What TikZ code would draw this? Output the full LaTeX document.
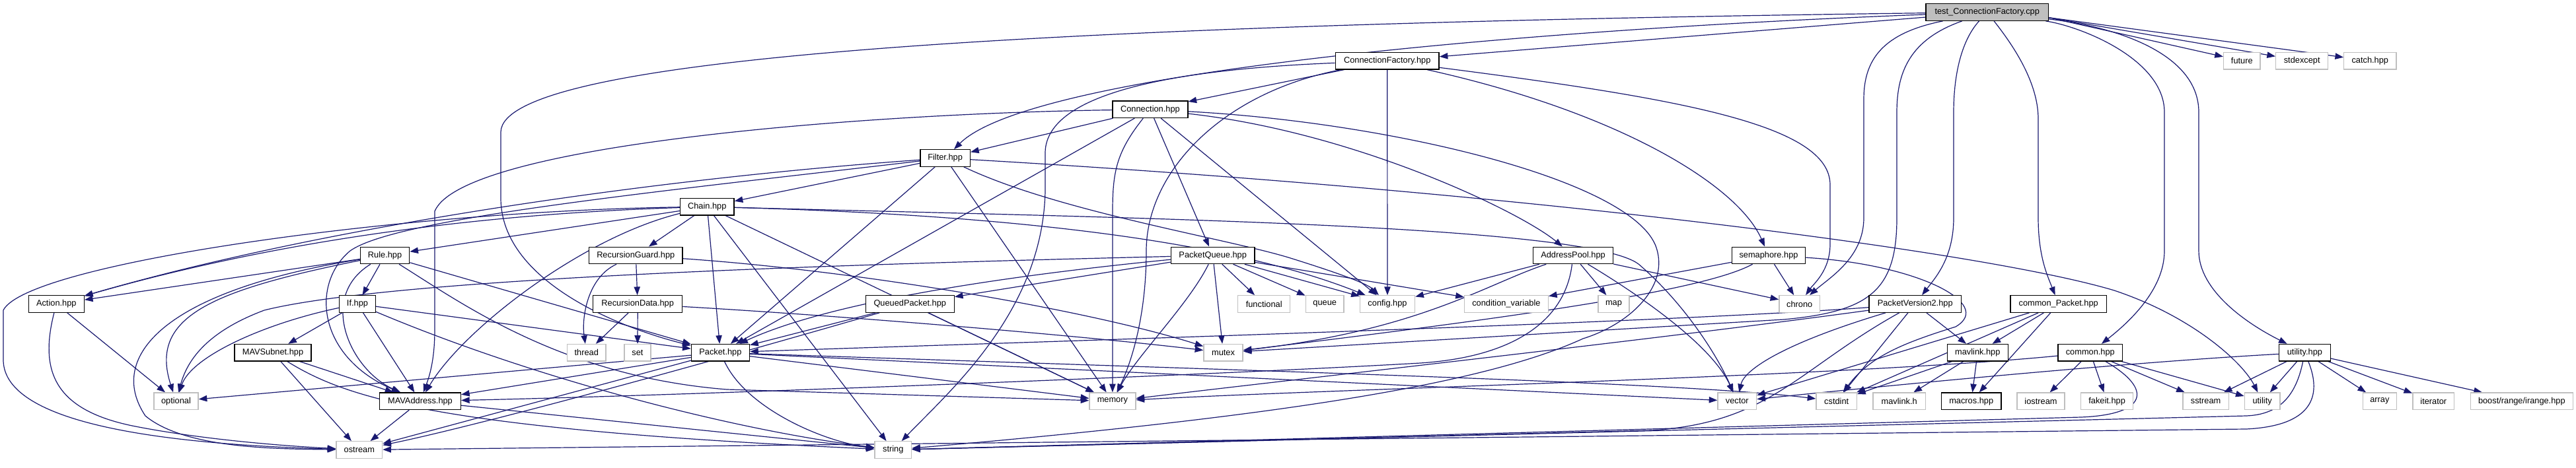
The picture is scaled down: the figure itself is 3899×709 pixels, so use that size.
\documentclass[tikz,border=0pt]{standalone}
\usepackage{fontspec}
\setmainfont{Liberation Sans}
\usetikzlibrary{arrows.meta,backgrounds}
\definecolor{edgeblue}{HTML}{191970}
\definecolor{grayb}{HTML}{BFBFBF}
\tikzset{
  box/.style={draw=black, line width=1pt, fill=white, minimum height=19.1pt, inner sep=0pt,
              font=\fontsize{9.6pt}{11pt}\selectfont},
  ext/.style={box, draw=grayb},
  root/.style={box, fill=grayb},
  e/.style={draw=edgeblue, line width=0.9pt, -{Triangle[length=9.5pt,width=7pt]}}
}
\begin{document}
\begin{tikzpicture}[x=0.75pt,y=-0.75pt]
\useasboundingbox (0,0) rectangle (3899,709);
% ---------------- nodes ----------------
\node[root, minimum width=139.1pt] (T) at (3007.7,18.5) {test\_ConnectionFactory.cpp};
\node[box, minimum width=117.5pt] (CF) at (2099.7,92.2) {ConnectionFactory.hpp};
\node[ext, minimum width=41.6pt] (future) at (3393.3,92.2) {future};
\node[ext, minimum width=59.3pt] (stdexcept) at (3484.2,92.2) {stdexcept};
\node[ext, minimum width=59.3pt] (catch) at (3587.3,92.2) {catch.hpp};
\node[box, minimum width=85.4pt] (Conn) at (1740.9,165.8) {Connection.hpp};
\node[box, minimum width=56.6pt] (Filt) at (1430.6,239.5) {Filter.hpp};
\node[box, minimum width=61.1pt] (Chain) at (1070.3,313.2) {Chain.hpp};
\node[box, minimum width=55.6pt] (Rule) at (582.6,386.9) {Rule.hpp};
\node[box, minimum width=106.1pt] (RG) at (962.3,386.9) {RecursionGuard.hpp};
\node[box, minimum width=95pt] (PQ) at (1835.7,386.9) {PacketQueue.hpp};
\node[box, minimum width=90.8pt] (AP) at (2381,386.9) {AddressPool.hpp};
\node[box, minimum width=83.4pt] (Sem) at (2677,386.9) {semaphore.hpp};
\node[box, minimum width=62.9pt] (Action) at (85.3,460.5) {Action.hpp};
\node[box, minimum width=40.9pt] (If) at (541,460.5) {If.hpp};
\node[box, minimum width=101.1pt] (RD) at (965.2,460.5) {RecursionData.hpp};
\node[box, minimum width=100.4pt] (QP) at (1377.3,460.5) {QueuedPacket.hpp};
\node[ext, minimum width=59.3pt] (functional) at (1913.2,460.5) {functional};
\node[ext, minimum width=43.3pt] (queue) at (2005.2,460.5) {queue};
\node[ext, minimum width=62.3pt] (config) at (2100,460.5) {config.hpp};
\node[ext, minimum width=95.1pt] (condvar) at (2279.9,460.5) {condition\_variable};
\node[ext, minimum width=35.3pt] (map) at (2442.5,460.5) {map};
\node[ext, minimum width=46.2pt] (chrono) at (2723.7,460.5) {chrono};
\node[box, minimum width=104.5pt] (PV2) at (2898.7,460.5) {PacketVersion2.hpp};
\node[box, minimum width=109.1pt] (cP) at (3115.7,460.5) {common\_Packet.hpp};
\node[box, minimum width=87pt] (MAVSubnet) at (413,534.2) {MAVSubnet.hpp};
\node[ext, minimum width=43.9pt] (thread) at (887.8,534.2) {thread};
\node[ext, minimum width=30pt] (set) at (965,534.2) {set};
\node[box, minimum width=66pt] (Pkt) at (1090.4,534.2) {Packet.hpp};
\node[ext, minimum width=44.3pt] (mutex) at (1851.5,534.2) {mutex};
\node[box, minimum width=69pt] (mavlinkhpp) at (2993.3,534.2) {mavlink.hpp};
\node[box, minimum width=73.1pt] (common) at (3163.8,534.2) {common.hpp};
\node[box, minimum width=58.2pt] (uhpp) at (3488.4,534.2) {utility.hpp};
\node[ext, minimum width=50.3pt] (optional) at (266.5,607.8) {optional};
\node[box, minimum width=92pt] (MAVAddr) at (636,607.8) {MAVAddress.hpp};
\node[ext, minimum width=52.4pt] (memory) at (1683.9,607.8) {memory};
\node[ext, minimum width=43.9pt] (vector) at (2629.3,607.8) {vector};
\node[ext, minimum width=46pt] (cstdint) at (2779.7,607.8) {cstdint};
\node[ext, minimum width=59.5pt] (mavlinkh) at (2874.7,607.8) {mavlink.h};
\node[box, minimum width=68pt] (macros) at (2983.7,607.8) {macros.hpp};
\node[ext, minimum width=54pt] (iostream) at (3089,607.8) {iostream};
\node[ext, minimum width=59.3pt] (fakeit) at (3189.1,607.8) {fakeit.hpp};
\node[ext, minimum width=51.9pt] (sstream) at (3338.6,607.8) {sstream};
\node[ext, minimum width=40.2pt] (utility) at (3424.1,607.8) {utility};
\node[ext, minimum width=38.2pt] (array) at (3601.8,607.8) {array};
\node[ext, minimum width=47.2pt] (iterator) at (3683.3,607.8) {iterator};
\node[ext, minimum width=116.2pt] (irange) at (3816.8,607.8) {boost/range/irange.hpp};
\node[ext, minimum width=52.2pt] (ostream) at (543.8,681.5) {ostream};
\node[ext, minimum width=41.6pt] (string) at (1351.8,681.5) {string};
% ---------------- edges ----------------
\begin{pgfonlayer}{background}
\fill[white] (0,0) rectangle (3899,709);
% test_ConnectionFactory.cpp
\draw[e] (T) -- (CF);
\draw[e] (T) .. controls (2300,45) and (1560,110) .. (Filt);
\draw[e] (T) .. controls (1500,38) and (760,90) .. (758,200) -- (758,300) .. controls (758,430) and (950,500) .. (Pkt);
\draw[e] (T) .. controls (2850,50) and (2821,90) .. (2821,150) -- (2821,330) .. controls (2821,390) and (2770,420) .. (chrono);
\draw[e] (T) .. controls (2890,60) and (2871,110) .. (2871,170) -- (2871,330) .. controls (2871,440) and (2830,472) .. (2700,484) -- (mutex);
\draw[e] (T) .. controls (2970,60) and (2957,110) .. (2957,170) -- (2957,330) .. controls (2957,390) and (2930,420) .. (PV2);
\draw[e] (T) .. controls (3040,60) and (3085,120) .. (3085,180) -- (3085,330) .. controls (3085,390) and (3100,420) .. (cP);
\draw[e] (T) .. controls (3150,40) and (3276,90) .. (3276,170) -- (3276,380) .. controls (3276,440) and (3220,490) .. (common);
\draw[e] (T) .. controls (3200,40) and (3328,80) .. (3328,170) -- (3328,380) .. controls (3328,440) and (3400,490) .. (uhpp);
\draw[e] (T.-5) -- (future);
\draw[e] (T.-5) -- (stdexcept);
\draw[e] (T.-5) -- (catch);
% ConnectionFactory.hpp
\draw[e] (CF) -- (Conn);
\draw[e] (CF) -- (config);
\draw[e] (CF) .. controls (1780,105) and (1585,140) .. (1582,230) -- (1582,290) .. controls (1578,470) and (1440,590) .. (string);
\draw[e] (CF) .. controls (1850,140) and (1735,260) .. (1735,380) .. controls (1735,480) and (1712,550) .. (memory);
\draw[e] (CF) .. controls (2550,150) and (2770,190) .. (2770,280) -- (2770,370) .. controls (2770,410) and (2745,430) .. (chrono);
\draw[e] (CF) .. controls (2450,170) and (2630,280) .. (Sem);
% Connection.hpp
\draw[e] (Conn) -- (Filt);
\draw[e] (Conn) .. controls (1300,172) and (700,220) .. (658,320) -- (658,500) .. controls (658,550) and (648,575) .. (MAVAddr);
\draw[e] (Conn) -- (Pkt);
\draw[e] (Conn) .. controls (1690,230) and (1684,260) .. (1684,320) -- (memory);
\draw[e] (Conn) -- (PQ);
\draw[e] (Conn) -- (config);
\draw[e] (Conn) .. controls (2050,200) and (2300,320) .. (AP);
\draw[e] (Conn) .. controls (2100,185) and (2460,270) .. (2505,370) .. controls (2530,430) and (2470,490) .. (2396,513) .. controls (2250,580) and (1950,630) .. (string);
% Filter.hpp
\draw[e] (Filt) -- (Chain);
\draw[e] (Filt) .. controls (1000,270) and (500,340) .. (Action);
\draw[e] (Filt) .. controls (1000,290) and (600,330) .. (530,380) .. controls (470,430) and (480,540) .. (MAVAddr);
\draw[e] (Filt) -- (Pkt);
\draw[e] (Filt) -- (memory);
\draw[e] (Filt) .. controls (1600,320) and (1850,360) .. (1950,390) .. controls (2030,415) and (2070,430) .. (config);
\draw[e] (Filt) .. controls (2300,290) and (3000,380) .. (3200,440) .. controls (3320,480) and (3395,550) .. (utility);
% Chain.hpp
\draw[e] (Chain) -- (Rule);
\draw[e] (Chain) .. controls (700,325) and (400,370) .. (Action);
\draw[e] (Chain) .. controls (600,320) and (40,400) .. (5,470) -- (5,545) .. controls (5,620) and (150,670) .. (ostream);
\draw[e] (Chain) .. controls (880,360) and (700,500) .. (MAVAddr);
\draw[e] (Chain) -- (RG);
\draw[e] (Chain) -- (Pkt);
\draw[e] (Chain) -- (string);
\draw[e] (Chain) .. controls (1500,325) and (1850,360) .. (config);
\draw[e] (Chain) .. controls (1700,330) and (2400,340) .. (2480,400) .. controls (2550,460) and (2600,540) .. (vector);
\draw[e] (Chain) -- (memory);
% Rule.hpp
\draw[e] (Rule) -- (Action);
\draw[e] (Rule) .. controls (320,440) and (225,480) .. (optional);
\draw[e] (Rule) .. controls (250,440) and (160,540) .. (220,630) .. controls (280,680) and (420,680) .. (ostream);
\draw[e] (Rule) -- (If);
\draw[e] (Rule) .. controls (480,450) and (530,560) .. (MAVAddr);
\draw[e] (Rule) .. controls (700,460) and (850,570) .. (1100,590) -- (memory);
\draw[e] (Rule) -- (Pkt);
% If.hpp
\draw[e] (If) .. controls (400,490) and (290,540) .. (optional);
\draw[e] (If) -- (MAVSubnet);
\draw[e] (If) -- (MAVAddr);
\draw[e] (If) -- (Pkt);
\draw[e] (If) .. controls (800,570) and (1100,650) .. (string);
% MAVSubnet.hpp
\draw[e] (MAVSubnet) -- (MAVAddr);
\draw[e] (MAVSubnet) -- (ostream);
\draw[e] (MAVSubnet) .. controls (520,600) and (650,650) .. (string);
% Action.hpp
\draw[e] (Action) -- (optional);
\draw[e] (Action) .. controls (60,560) and (80,620) .. (200,645) .. controls (300,665) and (420,675) .. (ostream);
% RecursionGuard / RecursionData
\draw[e] (RG) -- (RD);
\draw[e] (RG) .. controls (890,420) and (880,480) .. (thread);
\draw[e] (RG) .. controls (1300,410) and (1650,470) .. (mutex);
\draw[e] (RD) -- (thread);
\draw[e] (RD) -- (set);
\draw[e] (RD) .. controls (1300,480) and (1650,510) .. (mutex);
% PacketQueue.hpp
\draw[e] (PQ) .. controls (1300,400) and (600,420) .. (400,470) .. controls (320,500) and (285,540) .. (optional);
\draw[e] (PQ) -- (QP);
\draw[e] (PQ) .. controls (1500,420) and (1250,460) .. (Pkt);
\draw[e] (PQ) .. controls (1800,460) and (1720,540) .. (memory);
\draw[e] (PQ) -- (mutex);
\draw[e] (PQ) -- (functional);
\draw[e] (PQ) -- (queue);
\draw[e] (PQ) -- (config);
\draw[e] (PQ) -- (condvar);
% QueuedPacket.hpp
\draw[e] (QP) -- (Pkt);
\draw[e] (QP) .. controls (1000,570) and (700,650) .. (ostream);
\draw[e] (QP) -- (memory);
% Packet.hpp
\draw[e] (Pkt) -- (optional);
\draw[e] (Pkt) -- (MAVAddr);
\draw[e] (Pkt) -- (ostream);
\draw[e] (Pkt) .. controls (1130,620) and (1250,670) .. (string);
\draw[e] (Pkt) -- (memory);
\draw[e] (Pkt) -- (vector);
\draw[e] (Pkt) .. controls (2000,565) and (2550,580) .. (cstdint);
% MAVAddress.hpp
\draw[e] (MAVAddr) -- (ostream);
\draw[e] (MAVAddr) -- (string);
% AddressPool.hpp
\draw[e] (AP) -- (config);
\draw[e] (AP) .. controls (2250,430) and (2150,500) .. (mutex);
\draw[e] (AP) .. controls (2370,480) and (2300,540) .. (2150,550) .. controls (1800,570) and (1000,600) .. (MAVAddr);
\draw[e] (AP) -- (map);
\draw[e] (AP) .. controls (2470,440) and (2590,520) .. (vector);
\draw[e] (AP) -- (chrono);
% semaphore.hpp
\draw[e] (Sem) -- (chrono);
\draw[e] (Sem) -- (condvar);
\draw[e] (Sem) .. controls (2580,440) and (2300,480) .. (mutex);
\draw[e] (Sem) .. controls (2900,400) and (3020,460) .. (2960,495) .. controls (2880,520) and (2830,540) .. (cstdint);
% PacketVersion2.hpp
\draw[e] (PV2) .. controls (2500,490) and (1500,520) .. (Pkt);
\draw[e] (PV2) .. controls (2500,515) and (2000,570) .. (memory);
\draw[e] (PV2) .. controls (2700,520) and (2640,560) .. (vector);
\draw[e] (PV2) .. controls (2720,560) and (2680,640) .. (2500,652) -- (string);
\draw[e] (PV2) -- (cstdint);
\draw[e] (PV2) -- (mavlinkhpp);
% common_Packet.hpp
\draw[e] (cP) -- (vector);
\draw[e] (cP) -- (cstdint);
\draw[e] (cP) -- (mavlinkhpp);
\draw[e] (cP) -- (macros);
% mavlink.hpp
\draw[e] (mavlinkhpp) -- (cstdint);
\draw[e] (mavlinkhpp) -- (mavlinkh);
\draw[e] (mavlinkhpp) -- (macros);
% common.hpp
\draw[e] (common) .. controls (2800,570) and (2000,590) .. (memory);
\draw[e] (common) -- (iostream);
\draw[e] (common) -- (fakeit);
\draw[e] (common) -- (sstream);
\draw[e] (common) -- (utility);
\draw[e] (common) .. controls (3260,590) and (3250,628) .. (3150,632) -- (string);
% utility.hpp
\draw[e] (uhpp) .. controls (3200,550) and (2800,590) .. (vector);
\draw[e] (uhpp) -- (sstream);
\draw[e] (uhpp) -- (utility);
\draw[e] (uhpp) -- (array);
\draw[e] (uhpp) -- (iterator);
\draw[e] (uhpp) -- (irange);
\draw[e] (uhpp) .. controls (3475,600) and (3450,628) .. (3400,630) -- (string);
\draw[e] (uhpp) .. controls (3515,600) and (3500,645) .. (3400,650) -- (ostream);
\end{pgfonlayer}
\end{tikzpicture}
\end{document}
